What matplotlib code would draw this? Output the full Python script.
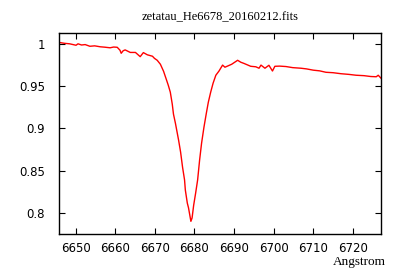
import matplotlib
matplotlib.use("Agg")
import matplotlib.pyplot as plt

title = "zetatau_He6678_20160212.fits"
xlabel = "Angstrom"

wavelength = [6645.8, 6646.0, 6647.2, 6648.5, 6650.1, 6650.6, 6651.5, 6652.4, 6653.6,
              6654.8, 6656.2, 6657.4, 6658.7, 6659.6, 6660.5, 6661.2, 6661.5, 6662.0,
              6662.5, 6663.8, 6665.1, 6666.3, 6667.1, 6668.1, 6669.4, 6669.9, 6670.6,
              6671.4, 6672.2, 6672.9, 6673.4, 6673.9, 6674.4, 6674.7, 6675.2, 6676.0,
              6676.5, 6677.0, 6677.5, 6677.7, 6678.2, 6678.5, 6678.8, 6679.1, 6679.4,
              6679.8, 6680.3, 6680.8, 6681.3, 6681.8, 6682.4, 6683.0, 6683.5, 6684.1,
              6684.7, 6685.4, 6686.2, 6687.1, 6687.7, 6689.4, 6690.9, 6691.7, 6692.5,
              6694.2, 6695.5, 6696.3, 6696.8, 6697.8, 6698.8, 6699.7, 6700.3, 6701.5,
              6703.1, 6704.8, 6706.9, 6708.3, 6710.0, 6711.6, 6713.2, 6715.0, 6717.0,
              6719.0, 6720.8, 6722.8, 6724.5, 6725.9, 6726.4, 6727.1]
flux = [1.002, 1.0017, 1.0008, 1.0002, 0.9985, 1.0002, 0.9988, 0.9993, 0.9973,
        0.9978, 0.9967, 0.9962, 0.9955, 0.9964, 0.9961, 0.9926, 0.989, 0.992,
        0.993, 0.990, 0.990, 0.985, 0.9898, 0.9872, 0.9855, 0.983, 0.9807,
        0.976, 0.9677, 0.958, 0.951, 0.943, 0.9287, 0.917, 0.906, 0.886,
        0.872, 0.854, 0.839, 0.827, 0.8115, 0.806, 0.798, 0.790, 0.794,
        0.809, 0.8235, 0.839, 0.8625, 0.8826, 0.9015, 0.918, 0.931, 0.943,
        0.9535, 0.963, 0.968, 0.975, 0.9725, 0.976, 0.9807, 0.9784, 0.977,
        0.9736, 0.973, 0.9713, 0.975, 0.9713, 0.9748, 0.968, 0.9736, 0.9738,
        0.9733, 0.9720, 0.9713, 0.9705, 0.969, 0.9682, 0.9665, 0.9660, 0.9648,
        0.9640, 0.963, 0.9625, 0.9615, 0.9612, 0.963, 0.9595]

xticks = [6650, 6660, 6670, 6680, 6690, 6700, 6710, 6720]
yticks = [0.8, 0.85, 0.9, 0.95, 1.0]
ytick_labels = ["0.8", "0.85", "0.9", "0.95", "1"]

fig = plt.figure(figsize=(4, 2.8), dpi=100)
ax = fig.add_axes([0.1475, 0.1643, 0.805, 0.7178])
ax.plot(wavelength, flux, color="#ff0000", lw=1.0)
ax.set_xlim(6645.8, 6727.1)
ax.set_ylim(0.775, 1.013)
ax.set_xticks(xticks)
ax.set_xticklabels([str(t) for t in xticks])
ax.set_yticks(yticks)
ax.set_yticklabels(ytick_labels)
ax.tick_params(direction="in", length=4, width=0.8, top=True, right=True,
               labelsize=8.5, colors="black")
ax.tick_params(axis="x", pad=6)
ax.tick_params(axis="y", pad=10)
for s in ax.spines.values():
    s.set_linewidth(1.0)
ax.set_title(title, fontsize=9, family="Liberation Serif", pad=9)
fig.text(0.965, 0.065, xlabel, ha="right", va="center", fontsize=9.5,
         family="Liberation Serif")
fig.savefig("out.png", dpi=100)
